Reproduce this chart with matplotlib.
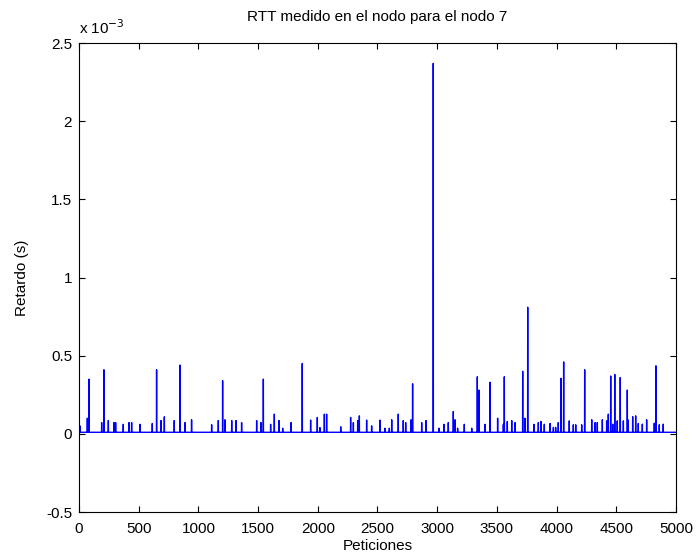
import numpy as np
import matplotlib
matplotlib.use("Agg")
import matplotlib.pyplot as plt
from matplotlib.ticker import FormatStrFormatter

plt.rcParams['font.family'] = ['Liberation Sans', 'DejaVu Sans']
plt.rcParams['axes.unicode_minus'] = False

# RTT samples (units of 1e-3 s)
n_samples = 5000
baseline = 0.01
spike_idx = [8, 70, 84, 190, 209, 246, 293, 307, 371, 419, 441, 511, 614, 650,
             687, 715, 798, 846, 888, 943, 1111, 1167, 1203, 1223, 1279,
             1315, 1362, 1488, 1524, 1544, 1605, 1636, 1675, 1706, 1776, 1870,
             1940, 1996, 2018, 2055, 2074, 2192, 2275, 2298, 2334, 2348, 2409,
             2451, 2521, 2563, 2599,
             2619, 2674, 2716, 2736, 2781, 2794, 2870, 2906, 2967, 3015, 3057,
             3093, 3135, 3149, 3171, 3227, 3289, 3336, 3350, 3400, 3442, 3506,
             3554, 3562, 3587, 3624, 3652, 3716, 3735, 3758, 3811, 3847, 3869,
             3897,
             3945, 3973, 3992, 4014, 4037, 4059, 4106, 4140, 4160, 4210, 4235,
             4294, 4322, 4341, 4383, 4419, 4433, 4453, 4470, 4487, 4508, 4533,
             4559, 4592, 4600, 4637, 4662, 4684, 4718, 4754, 4818, 4832, 4860,
             4893]
spike_val = [0.051, 0.10, 0.35, 0.072, 0.41, 0.085, 0.072, 0.072, 0.061, 0.072,
             0.072, 0.061, 0.066, 0.41, 0.085, 0.109, 0.085, 0.44, 0.072, 0.09,
             0.058, 0.085, 0.34, 0.09, 0.085,
             0.085, 0.072, 0.085, 0.072, 0.35, 0.061, 0.126, 0.085, 0.036,
             0.072, 0.45, 0.088, 0.105, 0.04, 0.126, 0.126, 0.045, 0.105, 0.072,
             0.085, 0.115, 0.088, 0.051, 0.088, 0.036, 0.036,
             0.09, 0.126, 0.085, 0.072, 0.09, 0.32, 0.072, 0.085, 2.37, 0.036,
             0.061, 0.072, 0.143, 0.09, 0.036, 0.061, 0.036, 0.365, 0.28, 0.061,
             0.33, 0.10, 0.061, 0.365, 0.079, 0.085, 0.072, 0.40, 0.10, 0.81,
             0.061, 0.072, 0.079, 0.061,
             0.066, 0.041, 0.041, 0.072, 0.355, 0.46, 0.083, 0.058, 0.058, 0.058,
             0.41, 0.09, 0.072, 0.072, 0.09, 0.083, 0.126, 0.37, 0.062, 0.38,
             0.083, 0.36, 0.083, 0.28, 0.088, 0.11, 0.115, 0.066, 0.062, 0.09,
             0.068, 0.435, 0.058, 0.062]

x = np.arange(1, n_samples + 1)
rtt = np.full(n_samples, baseline)
rtt[np.array(spike_idx) - 1] = spike_val

fig = plt.figure(figsize=(6.97, 5.6), dpi=100)
ax = fig.add_axes([0.1133, 0.0857, 0.8566, 0.8375])
ax.plot(x, rtt, color='#0000ff', lw=1.0)

ax.set_xlim(0, 5000)
ax.set_ylim(-0.5, 2.5)
ax.set_xticks(np.arange(0, 5001, 500))
ax.set_yticks(np.arange(-0.5, 2.51, 0.5))
ax.yaxis.set_major_formatter(FormatStrFormatter('%g'))
ax.tick_params(direction='in', top=True, right=True, labelsize=11, length=4)
ax.tick_params(axis='x', pad=7)
ax.tick_params(axis='y', pad=5)
for s in ax.spines.values():
    s.set_linewidth(0.8)

ax.set_title('RTT medido en el nodo para el nodo 7', fontsize=11, pad=16)
ax.set_xlabel('Peticiones', fontsize=11, labelpad=2)
ax.set_ylabel('Retardo (s)', fontsize=11, labelpad=12)
ax.text(0.0, 1.012, r'x 10$^{-3}$', transform=ax.transAxes, fontsize=11,
        ha='left', va='bottom')

fig.savefig('out.png', dpi=100)
